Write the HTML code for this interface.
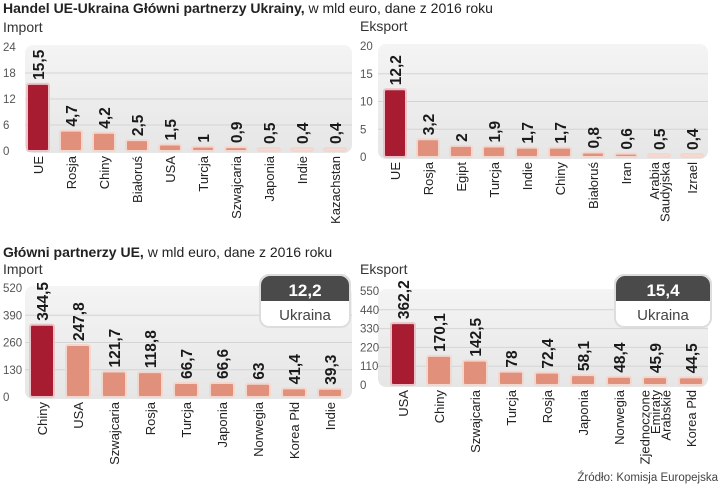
<!DOCTYPE html>
<html><head><meta charset="utf-8"><style>
body{margin:0;background:#fff;}
svg{display:block;font-family:"Liberation Sans Narrow","Liberation Sans",sans-serif;}
</style></head><body>
<svg id="c" width="720" height="488" viewBox="0 0 720 488">
<defs><linearGradient id="bg" x1="0" y1="0" x2="0" y2="1"><stop offset="0" stop-color="#f4f4f4"/><stop offset="1" stop-color="#e6e6e6"/></linearGradient></defs>
<text x="3" y="13" font-size="14" fill="#222"><tspan font-weight="bold">Handel UE-Ukraina Główni partnerzy Ukrainy,</tspan> w mld euro, dane z 2016 roku</text>
<text x="3" y="257" font-size="14" fill="#222"><tspan font-weight="bold">Główni partnerzy UE,</tspan> w mld euro, dane z 2016 roku</text>
<text x="718" y="481" font-size="11.5" fill="#444" text-anchor="end">Źródło: Komisja Europejska</text>
</svg>
<script>
const NS='http://www.w3.org/2000/svg';
const svg=document.getElementById('c');
// Panel 1: Ukraine import
const cats1=['UE','Rosja','Chiny','Białoruś','USA','Turcja','Szwajcaria','Japonia','Indie','Kazachstan'];
const vals1=[15.5,4.7,4.2,2.5,1.5,1,0.9,0.5,0.4,0.4];
const ticks1=[0,6,12,18,24];
// Panel 2: Ukraine export
const cats2=['UE','Rosja','Egipt','Turcja','Indie','Chiny','Białoruś','Iran','Arabia|Saudyjska','Izrael'];
const vals2=[12.2,3.2,2,1.9,1.7,1.7,0.8,0.6,0.5,0.4];
const ticks2=[0,5,10,15,20];
// Panel 3: EU import
const cats3=['Chiny','USA','Szwajcaria','Rosja','Turcja','Japonia','Norwegia','Korea Płd','Indie'];
const vals3=[344.5,247.8,121.7,118.8,66.7,66.6,63,41.4,39.3];
const ticks3=[0,130,260,390,520];
// Panel 4: EU export
const cats4=['USA','Chiny','Szwajcaria','Turcja','Rosja','Japonia','Norwegia','Zjednoczone|Emiraty|Arabskie','Korea Płd'];
const vals4=[362.2,170.1,142.5,78,72.4,58.1,48.4,45.9,44.5];
const ticks4=[0,110,220,330,440,550];
const ukraineImport=[12.2];
const ukraineExport=[15.4];

function el(tag,attrs,parent){const e=document.createElementNS(NS,tag);for(const k in attrs)e.setAttribute(k,attrs[k]);(parent||svg).appendChild(e);return e;}
function fmt(v){return String(v).replace('.',',');}

function panel(o){
  const g=el('g',{});
  
  
  const maxT=o.ticks[o.ticks.length-1];
  const y=v=>o.y0-(v/maxT)*(o.y0-o.yTop);
  const x=i=>o.x0+i*o.step;
  const t=el('text',{x:o.labelX,y:o.subY,'font-size':14,fill:'#333'},g);
  t.textContent=o.title;
  
  
  const bg=el('rect',{x:o.bgX,y:o.yTop-2,width:o.bgW,height:o.y0-o.yTop+4,rx:8,fill:'url(#bg)'},g);
  
  
  o.ticks.forEach(tv=>{
    const yy=y(tv);
    if(tv>0&&tv<maxT){const ln=el('line',{x1:o.bgX,x2:o.bgX+o.bgW,y1:yy,y2:yy,stroke:'#d4d4d4','stroke-width':1},g);
      
      }
    const tl=el('text',{x:o.labelX,y:yy+4,'font-size':11.5,fill:'#555'},g);
    tl.textContent=tv;
    
    
  });
  o.vals.forEach((v,i)=>{
    const cx=x(i);const top=y(v);const h=Math.max(o.y0-top,3);
    const b=el('rect',{x:cx-o.bw/2,y:o.y0-h,width:o.bw,height:h,rx:2,fill:i===0?'#a81c31':(v<0.6&&maxT<30?'#f1ddd8':'#e0907b'),stroke:i===0?'#e9c3c8':'#f3d7cf','stroke-width':2},g);
    
    
    const vt=el('text',{transform:`translate(${cx+6},${o.y0-h-4}) rotate(-90)`,'font-size':15.5,'font-weight':'bold',fill:'#1a1a1a'},g);
    vt.textContent=fmt(v);
    
    
    const lines=o.cats[i].split('|');
    lines.forEach((ln,j)=>{
      const off=(j-(lines.length-1)/2)*10.5;
      const ct=el('text',{transform:`translate(${cx+5+off},${o.y0+5}) rotate(-90)`,'font-size':13,fill:'#222','text-anchor':'end'},g);
      ct.textContent=ln;
      
      
    });
  });
  if(o.box){
    const bx=el('g',{},g);
    
    
    el('rect',{x:o.box[0],y:275,width:o.box[1],height:52,rx:9,fill:'#fff',stroke:'#ddd','stroke-width':2},bx);
    el('path',{d:`M${o.box[0]+1} 301 V285 a9 9 0 0 1 9 -9 H${o.box[0]+o.box[1]-10} a9 9 0 0 1 9 9 V301 Z`,fill:'#4a4a4a'},bx);
    const v=el('text',{x:o.box[0]+o.box[1]/2,y:296,'font-size':17,'font-weight':'bold',fill:'#fff','text-anchor':'middle'},bx);
    v.textContent=fmt(o.boxVal[0]);
    
    
    const n=el('text',{x:o.box[0]+o.box[1]/2,y:320,'font-size':15,fill:'#444','text-anchor':'middle'},bx);
    n.textContent='Ukraina';
    
    
  }
}
panel({name:'ukraine-import-chart',title:'Import',cats:cats1,vals:vals1,ticks:ticks1,y0:151,yTop:47,x0:38,step:33,bw:22,bgX:25,bgW:327,labelX:3,subY:32});
panel({name:'ukraine-export-chart',title:'Eksport',cats:cats2,vals:vals2,ticks:ticks2,y0:157,yTop:46,x0:395,step:33,bw:22,bgX:378,bgW:330,labelX:360,subY:31});
panel({name:'eu-import-chart',title:'Import',cats:cats3,vals:vals3,ticks:ticks3,y0:397,yTop:288,x0:42,step:36,bw:24,bgX:25,bgW:327,labelX:3,subY:274,box:[260,90],boxVal:ukraineImport});
panel({name:'eu-export-chart',title:'Eksport',cats:cats4,vals:vals4,ticks:ticks4,y0:385,yTop:291,x0:403,step:36,bw:24,bgX:378,bgW:330,labelX:360,subY:274,box:[615,96],boxVal:ukraineExport});
</script>
</body></html>
